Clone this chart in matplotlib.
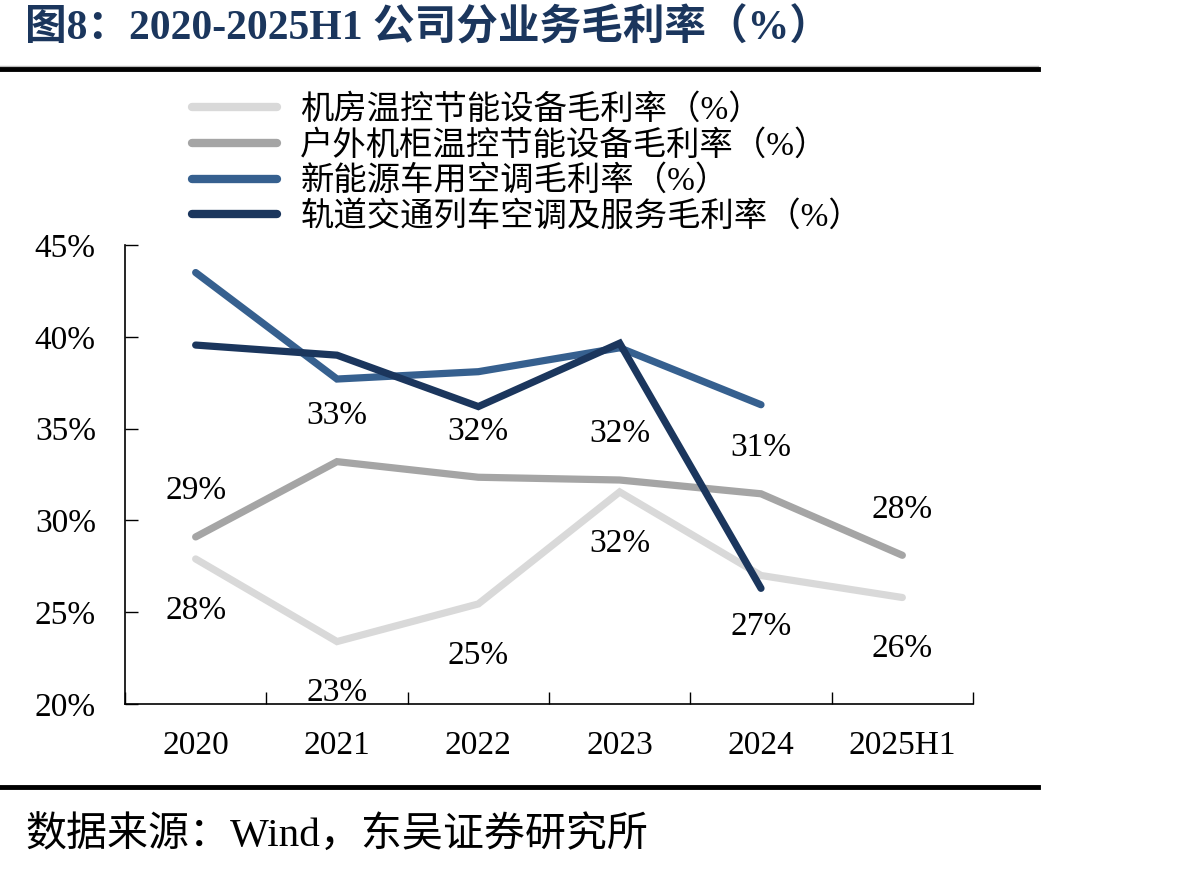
import matplotlib
matplotlib.use("Agg")
import matplotlib.pyplot as plt
from matplotlib.lines import Line2D

plt.rcParams['font.family'] = ['Liberation Serif', 'Noto Sans CJK SC', 'DejaVu Sans']

categories = ["2020", "2021", "2022", "2023", "2024", "2025H1"]
series_names = [
    "机房温控节能设备毛利率（%）",
    "户外机柜温控节能设备毛利率（%）",
    "新能源车用空调毛利率（%）",
    "轨道交通列车空调及服务毛利率（%）",
]
room_cooling = [27.9, 23.4, 25.45, 31.55, 27.0, 25.8]
cabinet_cooling = [29.1, 33.2, 32.35, 32.2, 31.45, 28.1]
ev_ac = [43.5, 37.7, 38.1, 39.4, 36.3, None]
rail_ac = [39.55, 39.0, 36.2, 39.65, 26.3, None]
yticks = [20, 25, 30, 35, 40, 45]

colors = ["#D9D9D9", "#A5A5A5", "#36608F", "#1B365D"]
title_color = "#1B365D"

W, H = 1192, 873
fig = plt.figure(figsize=(W / 100, H / 100), dpi=100)

ax = fig.add_axes([125 / W, 1 - 704 / H, (973 - 125) / W, (704 - 245) / H])

all_series = [room_cooling, cabinet_cooling, ev_ac, rail_ac]
x = list(range(len(categories)))
for vals, c, name in zip(all_series, colors, series_names):
    xs = [i for i, v in zip(x, vals) if v is not None]
    ys = [v for v in vals if v is not None]
    ax.plot(xs, ys, color=c, lw=5.2, solid_capstyle='round', solid_joinstyle='miter', label=name)

# data labels for the two grey series
for i, v in enumerate(cabinet_cooling):
    ax.annotate(f"{v:.0f}%", (i, v), xytext=(0, 33), textcoords='offset points',
                ha='center', va='center', fontsize=24, color='black')
for i, v in enumerate(room_cooling):
    ax.annotate(f"{v:.0f}%", (i, v), xytext=(0, -37), textcoords='offset points',
                ha='center', va='center', fontsize=24, color='black')

ax.set_xlim(-0.5, len(categories) - 0.5)
ax.set_ylim(20, 45)
ax.set_yticks(yticks)
ax.set_yticklabels([f"{t}%" for t in yticks], fontsize=24)
ax.set_xticks(x)
ax.set_xticklabels(categories, fontsize=24)
ax.set_xticks([i + 0.5 for i in range(-1, len(categories))], minor=True)
ax.tick_params(axis='x', which='major', length=0, pad=19)
ax.tick_params(axis='x', which='minor', direction='in', length=9, width=1)
ax.tick_params(axis='y', which='major', direction='in', length=9, width=1, pad=21)
for s in ['top', 'right']:
    ax.spines[s].set_visible(False)
for s in ['left', 'bottom']:
    ax.spines[s].set_linewidth(1.2)

handles = [Line2D([0], [0], color=c, lw=6, solid_capstyle='round') for c in colors]
fig.legend(handles, series_names, loc='upper left', bbox_to_anchor=(192 / W, 1 - 94 / H),
           frameon=False, fontsize=24, handlelength=2.55, handletextpad=0.7,
           labelspacing=0.12, borderaxespad=0, borderpad=0)

# title and rules
fig.text(25 / W, 1 - 28 / H, "图8：2020-2025H1 公司分业务毛利率（%）", fontsize=30,
         fontweight='bold', color=title_color, ha='left', va='center')
fig.add_artist(Line2D([0, 1038 / W], [1 - 66 / H, 1 - 66 / H], color='#BBBBBB', lw=1,
                      transform=fig.transFigure))
fig.add_artist(Line2D([0, 1038 / W], [1 - 69 / H, 1 - 69 / H], color='black', lw=3.5,
                      transform=fig.transFigure))
fig.add_artist(Line2D([0, 1038 / W], [1 - 787 / H, 1 - 787 / H], color='black', lw=3.5,
                      transform=fig.transFigure))
fig.text(25 / W, 1 - 836 / H, "数据来源：Wind，东吴证券研究所", fontsize=29.5,
         color='black', ha='left', va='center')

fig.savefig("out.png", dpi=100)
